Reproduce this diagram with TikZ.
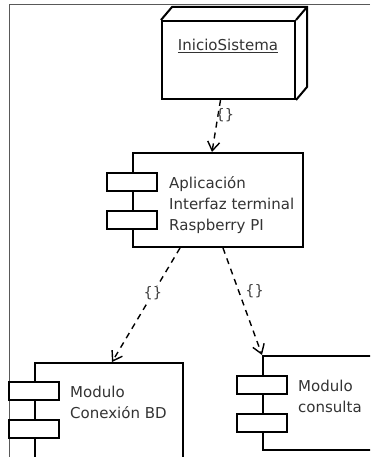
\documentclass[tikz,border=0pt]{standalone}
\usepackage{fontspec}
\setmainfont{DejaVu Sans}
\usetikzlibrary{arrows.meta}

\begin{document}
\begin{tikzpicture}[x=1pt,y=-1pt,
  box/.style={draw=black, line width=2pt, fill=white, inner sep=0pt},
  port/.style={draw=black, line width=2pt, fill=white, minimum width=50pt, minimum height=18pt, inner sep=0pt},
  txt/.style={text=black!80, font=\fontsize{15}{21}\selectfont, align=left, anchor=west, inner sep=0pt},
  dep/.style={draw=black, line width=1.4pt, dash pattern=on 6pt off 5pt, -{Straight Barb[length=9pt,width=12pt]}},
  braces/.style={text=black!75, font=\fontsize{14.5}{14.5}\selectfont, inner sep=1pt},
  frameline/.style={draw=black!65, line width=1pt}]

\useasboundingbox (0,0) rectangle (370,457);
\clip (0,0) rectangle (370,457);
\fill[white] (0,0) rectangle (370,457);

% outer frame (top and left edges)
\draw[frameline] (370,5) -- (9,5) -- (9,457);

% node InicioSistema, drawn as a 3D box
\node[box, minimum width=133pt, minimum height=78pt] (isys) at (228.5,60) {};
\draw[line width=2pt, line join=miter]
  (isys.north west) -- ++(11,-13) -- ([shift={(11,-13)}]isys.north east)
  -- ([shift={(11,-13)}]isys.south east) -- (isys.south east)
  (isys.north east) -- ++(11,-13);
\node[text=black!80, font=\fontsize{15}{21}\selectfont, inner sep=0pt] (isystxt) at (228,46) {\underline{InicioSistema}};

% component: Aplicacion
\node[box, minimum width=170pt, minimum height=94pt] (app) at (218,200) {};
\node[port] (appp1) at (app.west |- 0,182) {};
\node[port] (appp2) at (app.west |- 0,220) {};
\node[txt] (apptxt) at (169,205) {Aplicación\\Interfaz terminal\\Raspberry PI};

% component: Modulo Conexion BD
\node[box, minimum width=148pt, minimum height=117pt] (bd) at (109,421.5) {};
\node[port] (bdp1) at (bd.west |- 0,391) {};
\node[port] (bdp2) at (bd.west |- 0,429) {};
\node[txt] (bdtxt) at (70,402.5) {Modulo\\Conexión BD};

% component: Modulo consulta
\node[box, minimum width=137pt, minimum height=94pt] (cons) at (331.5,403) {};
\node[port] (consp1) at (cons.west |- 0,384.5) {};
\node[port] (consp2) at (cons.west |- 0,422.5) {};
\node[txt] (constxt) at (298,396.5) {Modulo\\consulta};

% dependencies
\draw[dep] ([xshift=-8pt]isys.south) -- node[braces, pos=0.3, xshift=7pt] {\{\}} ([xshift=-6pt]app.north);
\draw[dep] ([xshift=-38pt]app.south) -- node[braces, pos=0.4, fill=white] {\{\}} ([xshift=3pt]bd.north);
\draw[dep] ([xshift=5pt]app.south) -- node[braces, pos=0.4, xshift=16pt] {\{\}} (cons.north west);
\end{tikzpicture}
\end{document}
